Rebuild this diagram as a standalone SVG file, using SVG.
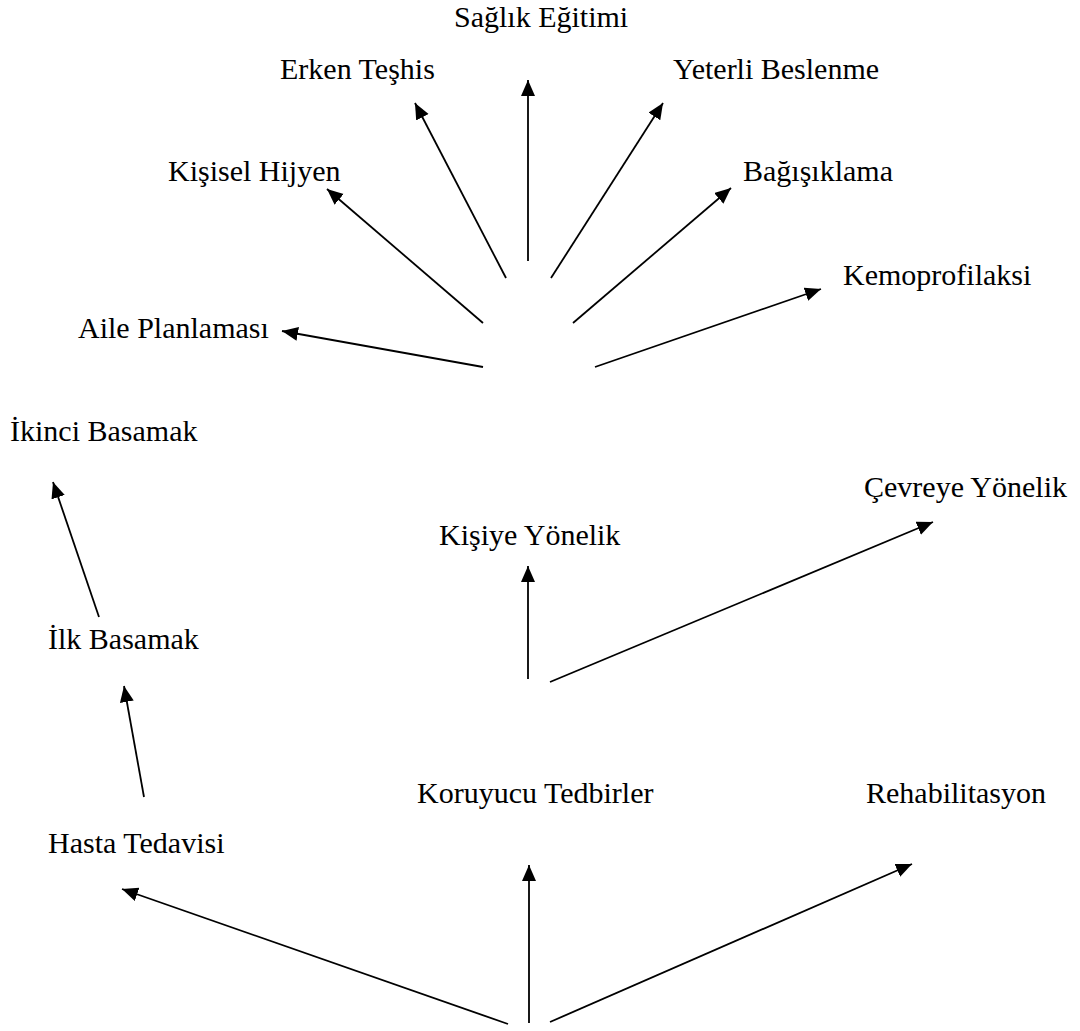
<svg xmlns="http://www.w3.org/2000/svg" width="1080" height="1031" viewBox="0 0 1080 1031">
<style>
.lbl{font-family:"Liberation Serif","Times New Roman",Tinos,serif;font-size:30px;fill:#000}
.c{stroke:#000;stroke-width:1.8;fill:none;marker-end:url(#ah)}
</style>
<defs>
<marker id="ah" markerUnits="userSpaceOnUse" markerWidth="18" markerHeight="16" refX="16" refY="7" orient="auto">
<path d="M0,0 L16,7 L0,14 z" fill="#000"/>
</marker>
</defs>
<rect width="1080" height="1031" fill="#fff"/>
<g id="connectors">
<line class="c" x1="483" y1="367" x2="282" y2="331"/>
<line class="c" x1="483" y1="323" x2="327" y2="189"/>
<line class="c" x1="506" y1="278" x2="415" y2="103"/>
<line class="c" x1="528" y1="261" x2="528" y2="80"/>
<line class="c" x1="551" y1="278" x2="663" y2="103"/>
<line class="c" x1="573" y1="323" x2="731" y2="188"/>
<line class="c" x1="595" y1="367" x2="821" y2="289"/>
<line class="c" x1="99" y1="617" x2="53" y2="482"/>
<line class="c" x1="144" y1="797" x2="124" y2="686"/>
<line class="c" x1="528" y1="679" x2="528" y2="566"/>
<line class="c" x1="550" y1="682" x2="933" y2="522"/>
<line class="c" x1="508" y1="1024" x2="122" y2="889"/>
<line class="c" x1="529" y1="1023" x2="529" y2="865"/>
<line class="c" x1="550" y1="1022" x2="912" y2="864"/>
</g>
<g id="saglik-egitimi"><text class="lbl" x="454" y="27">Sağlık Eğitimi</text></g>
<g id="erken-teshis"><text class="lbl" x="280" y="79">Erken Teşhis</text></g>
<g id="yeterli-beslenme"><text class="lbl" x="673" y="79">Yeterli Beslenme</text></g>
<g id="kisisel-hijyen"><text class="lbl" x="168" y="181">Kişisel Hijyen</text></g>
<g id="bagisiklama"><text class="lbl" x="743" y="181">Bağışıklama</text></g>
<g id="kemoprofilaksi"><text class="lbl" x="843" y="285">Kemoprofilaksi</text></g>
<g id="aile-planlamasi"><text class="lbl" x="78" y="338">Aile Planlaması</text></g>
<g id="ikinci-basamak"><text class="lbl" x="10" y="441">İkinci Basamak</text></g>
<g id="cevreye-yonelik"><text class="lbl" x="864" y="497">Çevreye Yönelik</text></g>
<g id="kisiye-yonelik"><text class="lbl" x="439" y="545">Kişiye Yönelik</text></g>
<g id="ilk-basamak"><text class="lbl" x="48" y="649">İlk Basamak</text></g>
<g id="koruyucu-tedbirler"><text class="lbl" x="417" y="803">Koruyucu Tedbirler</text></g>
<g id="rehabilitasyon"><text class="lbl" x="866" y="803">Rehabilitasyon</text></g>
<g id="hasta-tedavisi"><text class="lbl" x="48" y="853">Hasta Tedavisi</text></g>
</svg>
